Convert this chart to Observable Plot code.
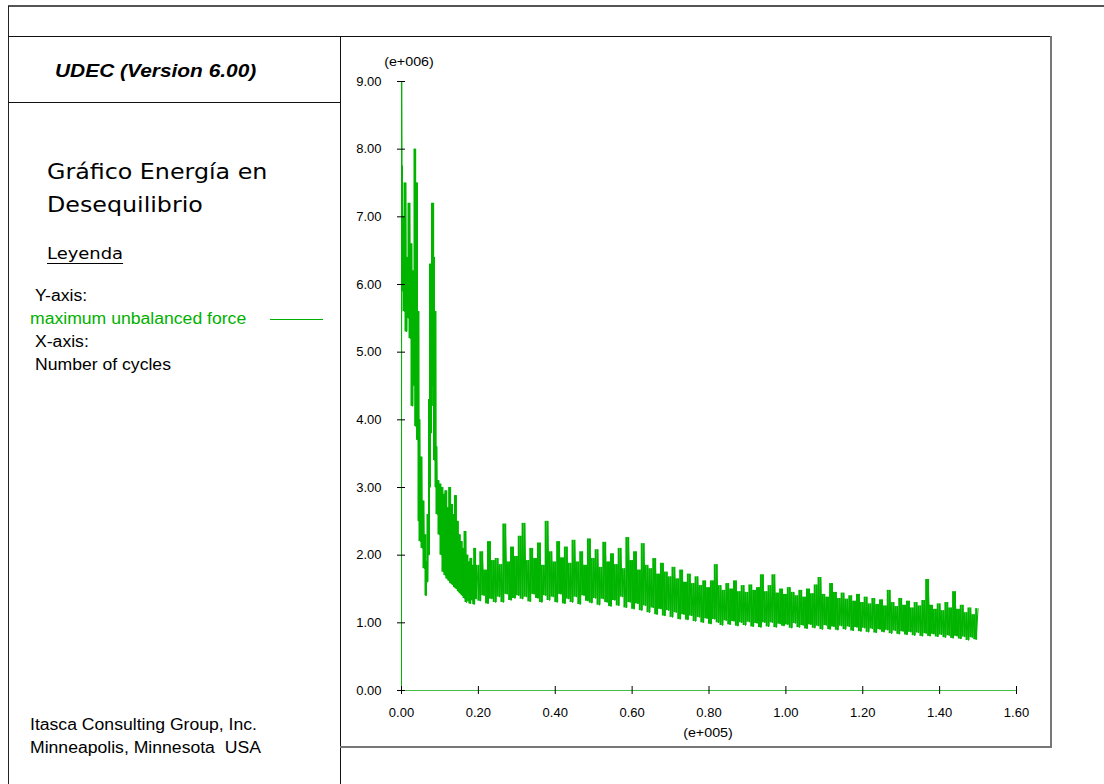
<!DOCTYPE html>
<html>
<head>
<meta charset="utf-8">
<script src="https://cdn.jsdelivr.net/npm/d3@7"></script>
<script src="https://cdn.jsdelivr.net/npm/@observablehq/plot@0.6"></script>
<style>
  html, body { margin: 0; padding: 0; background: #fff; }
  #page { position: relative; width: 1104px; height: 784px; background: #fff; overflow: hidden; }
  .ln { position: absolute; }
  .t { position: absolute; white-space: pre; line-height: 1; transform-origin: left top; }
  .arial { font-family: "Liberation Sans", Arial, sans-serif; }
  .verd { font-family: "DejaVu Sans", Verdana, sans-serif; }
  #chart { position: absolute; left: 340px; top: 36px; }
</style>
</head>
<body>
<div id="page">
  <!-- frame lines -->
  <div class="ln" style="left:8px;top:5px;width:1096px;height:2px;background:#555"></div>
  <div class="ln" style="left:8px;top:6px;width:1px;height:778px;background:#222"></div>
  <div class="ln" style="left:8px;top:36px;width:1043px;height:1px;background:#111"></div>
  <div class="ln" style="left:8px;top:102px;width:332px;height:1px;background:#111"></div>
  <div class="ln" style="left:340px;top:36px;width:1px;height:748px;background:#111"></div>
  <div class="ln" style="left:1050px;top:36px;width:2px;height:712px;background:#777"></div>
  <div class="ln" style="left:340px;top:746px;width:712px;height:2px;background:#777"></div>

  <!-- left panel texts -->
  <div class="t arial" style="left:55px;top:61px;font-size:19px;font-weight:bold;font-style:italic;transform:scaleX(1.1)">UDEC (Version 6.00)</div>
  <div class="t verd" style="left:47px;top:161.4px;font-size:22px;transform:scaleX(1.08)">Gráfico Energía en</div>
  <div class="t verd" style="left:47px;top:194.4px;font-size:22px;transform:scaleX(1.08)">Desequilibrio</div>
  <div class="t verd" style="left:47px;top:245.5px;font-size:16px;text-decoration:underline;text-underline-offset:4px;transform:scaleX(1.12)">Leyenda</div>
  <div class="t arial" style="left:35px;top:287.5px;font-size:16px;transform:scaleX(1.1)">Y-axis:</div>
  <div class="t arial" style="left:30px;top:310.5px;font-size:16px;color:#00b000;transform:scaleX(1.1)">maximum unbalanced force</div>
  <div class="ln" style="left:270px;top:319px;width:53px;height:1px;background:#00b000"></div>
  <div class="t arial" style="left:35px;top:333.5px;font-size:16px;transform:scaleX(1.1)">X-axis:</div>
  <div class="t arial" style="left:35px;top:356.5px;font-size:16px;transform:scaleX(1.1)">Number of cycles</div>
  <div class="t arial" style="left:30px;top:716.5px;font-size:16px;transform:scaleX(1.1)">Itasca Consulting Group, Inc.</div>
  <div class="t arial" style="left:30px;top:739.5px;font-size:16px;transform:scaleX(1.1)">Minneapolis, Minnesota  USA</div>

  <!-- exponent labels -->
  <div class="t arial" style="left:358.5px;top:54.5px;width:100px;text-align:center;font-size:13px;transform-origin:center top;transform:scaleX(1.1)">(e+006)</div>
  <div class="t arial" style="left:658px;top:726px;width:100px;text-align:center;font-size:13px;transform-origin:center top;transform:scaleX(1.1)">(e+005)</div>

  <div id="chart"></div>
</div>
<script>
// Number of cycles (e+005) and maximum unbalanced force (e+006)
const cyclesEarly = [0,0.0005,0.0013,0.0026,0.0052,0.0078,0.0104,0.0130,0.0156,0.0182,0.0208,0.0234,0.0260,0.0286,0.0312,0.0338,0.0356,0.0377,0.0403,0.0416,0.0442,0.0455,0.0468,0.0494,0.0520,0.0546,0.0572,0.0598,0.0624,0.0637,0.0650,0.0676,0.0702,0.0715,0.0728,0.0741,0.0754,0.0767,0.0780,0.0793,0.0824,0.0832,0.0845,0.0858,0.0884,0.0897,0.0910,0.0936,0.0962,0.0988,0.1014,
  0.1040,0.1065,0.1090,0.1115,0.1140,0.1165,0.1190,0.1215,0.1240,0.1265,0.1290,0.1315,0.1340,0.1365,0.1390,0.1415,0.1440,0.1465,0.1490,0.1515,0.1540,0.1565,0.1590,0.1615,0.1640,0.1665,0.1690,0.1715,0.1740,0.1765,0.1790,0.1815,0.1840,0.1865,0.1890,0.1915,0.1940];
const forceEarly = [0,9.0,7.75,5.9,7.0,5.6,7.5,5.3,6.4,5.5,7.2,5.2,6.6,4.2,6.2,4.5,8.0,3.9,7.5,3.7,5.6,2.5,4.0,2.2,3.45,2.1,2.8,1.8,2.3,1.4,1.9,1.6,2.6,2.0,4.3,3.0,6.3,3.8,6.0,4.5,7.2,4.2,6.4,3.4,5.6,3.0,3.6,2.6,3.1,2.3,3.05,
  2.0,3.0,1.75,2.9,1.7,2.95,1.65,2.7,1.62,3.0,1.58,2.75,1.56,2.6,1.52,2.88,1.5,2.5,1.46,2.3,1.43,2.2,1.4,2.1,1.36,2.35,1.3,2.0,1.32,1.9,1.28,1.95,1.33,1.85,1.27,2.1,1.35];

const cyclesMain = [
  .2,.205,.21,.215,.22,.225,.23,.235,.24,.245,
  .25,.255,.26,.265,.27,.275,.28,.285,.29,.295,
  .3,.305,.31,.315,.32,.325,.33,.335,.34,.345,
  .35,.355,.36,.365,.37,.375,.38,.385,.39,.395,
  .4,.405,.41,.415,.42,.425,.43,.435,.44,.445,
  .45,.455,.46,.465,.47,.475,.48,.485,.49,.495,
  .5,.505,.51,.515,.52,.525,.53,.535,.54,.545,
  .55,.555,.56,.565,.57,.575,.58,.585,.59,.595,
  .6,.605,.61,.615,.62,.625,.63,.635,.64,.645,
  .65,.655,.66,.665,.67,.675,.68,.685,.69,.695,
  .7,.705,.71,.715,.72,.725,.73,.735,.74,.745,
  .75,.755,.76,.765,.77,.775,.78,.785,.79,.795,
  .8,.805,.81,.815,.82,.825,.83,.835,.84,.845,
  .85,.855,.86,.865,.87,.875,.88,.885,.89,.895,
  .9,.905,.91,.915,.92,.925,.93,.935,.94,.945,
  .95,.955,.96,.965,.97,.975,.98,.985,.99,.995,
  1,1.005,1.01,1.015,1.02,1.025,1.03,1.035,1.04,1.045,
  1.05,1.055,1.06,1.065,1.07,1.075,1.08,1.085,1.09,1.095,
  1.1,1.105,1.11,1.115,1.12,1.125,1.13,1.135,1.14,1.145,
  1.15,1.155,1.16,1.165,1.17,1.175,1.18,1.185,1.19,1.195,
  1.2,1.205,1.21,1.215,1.22,1.225,1.23,1.235,1.24,1.245,
  1.25,1.255,1.26,1.265,1.27,1.275,1.28,1.285,1.29,1.295,
  1.3,1.305,1.31,1.315,1.32,1.325,1.33,1.335,1.34,1.345,
  1.35,1.355,1.36,1.365,1.37,1.375,1.38,1.385,1.39,1.395,
  1.4,1.405,1.41,1.415,1.42,1.425,1.43,1.435,1.44,1.445,
  1.45,1.455,1.46,1.465,1.47,1.475,1.48,1.485,1.49,1.495,
  1.5];
const forceMain = [
  1.85,1.32,2.05,1.40,1.78,1.28,2.20,1.35,1.92,1.30,
  1.95,1.38,1.86,1.30,2.46,1.42,1.90,1.33,2.12,1.36,
  1.98,1.40,2.28,1.35,2.47,1.38,1.92,1.31,2.10,1.42,
  1.95,1.36,2.18,1.30,1.85,1.40,2.50,1.33,2.05,1.38,
  1.90,1.30,2.20,1.42,1.96,1.28,2.12,1.35,1.88,1.30,
  2.22,1.38,1.90,1.27,2.05,1.40,1.85,1.32,2.24,1.29,
  1.95,1.36,2.08,1.26,1.82,1.35,2.19,1.30,1.90,1.24,
  2.02,1.33,1.86,1.25,2.10,1.38,1.80,1.22,2.26,1.30,
  1.92,1.20,2.05,1.28,1.78,1.18,2.17,1.25,1.85,1.15,
  1.80,1.22,1.95,1.12,1.72,1.20,1.88,1.10,1.75,1.18,
  1.68,1.08,1.82,1.15,1.65,1.05,1.78,1.12,1.60,1.04,
  1.72,1.10,1.58,1.02,1.68,1.08,1.55,1.00,1.62,1.06,
  1.52,0.98,1.62,1.05,1.86,1.00,1.55,0.96,1.48,1.03,
  1.58,0.97,1.50,1.02,1.62,0.95,1.46,1.00,1.55,0.96,
  1.45,1.01,1.56,0.94,1.48,0.99,1.52,0.93,1.71,1.00,
  1.46,0.94,1.55,1.00,1.71,0.93,1.44,0.98,1.50,0.95,
  1.42,0.97,1.52,0.92,1.45,0.99,1.40,0.93,1.48,0.96,
  1.38,0.91,1.50,0.97,1.43,0.92,1.56,0.95,1.67,0.90,
  1.42,0.96,1.38,0.90,1.58,0.94,1.45,0.89,1.36,0.95,
  1.44,0.90,1.35,0.94,1.40,0.88,1.32,0.93,1.42,0.87,
  1.30,0.92,1.38,0.86,1.28,0.91,1.36,0.85,1.27,0.90,
  1.34,0.86,1.25,0.89,1.48,0.84,1.30,0.88,1.24,0.83,
  1.36,0.87,1.26,0.82,1.32,0.86,1.22,0.81,1.30,0.85,
  1.25,0.80,1.33,0.84,1.64,0.80,1.26,0.83,1.20,0.79,
  1.28,0.82,1.18,0.78,1.30,0.81,1.22,0.77,1.46,0.80,
  1.20,0.76,1.26,0.79,1.15,0.74,1.22,0.78,1.12,0.75,
  1.21];

const xTicks = [0, 0.2, 0.4, 0.6, 0.8, 1.0, 1.2, 1.4, 1.6];
const yTicks = [0, 1, 2, 3, 4, 5, 6, 7, 8, 9];

const cycles = cyclesEarly.concat(cyclesMain);
const force = forceEarly.concat(forceMain);
const series = cycles.map((c, i) => ({cycles: c, force: force[i]}));
// vertical extent swept by each recorded step (how the dense trace fills a pixel column)
const sweeps = series.slice(2, -1).map((d, i) => {
  const next = series[i + 3];
  return {cycles: d.cycles, lo: Math.min(d.force, next.force), hi: Math.max(d.force, next.force)};
});

const lineGreen = "#00b400";
const axisGreen = "#45be45";

const chart = Plot.plot({
  width: 711,
  height: 711,
  marginLeft: 61,
  marginRight: 35,
  marginTop: 45,
  marginBottom: 57,
  x: {domain: [0, 1.6]},
  y: {domain: [0, 9]},
  style: {fontFamily: "'Liberation Sans', Arial, sans-serif", fontSize: "13px", color: "#000", background: "transparent", overflow: "visible"},
  marks: [
    Plot.ruleY([0], {stroke: axisGreen, strokeWidth: 1}),
    Plot.ruleX([0], {stroke: axisGreen, strokeWidth: 1}),
    Plot.ruleX(sweeps, {x: "cycles", y1: "lo", y2: "hi", stroke: lineGreen, strokeWidth: 2}),
    Plot.line(series, {x: "cycles", y: "force", stroke: lineGreen, strokeWidth: 1}),
    Plot.axisX(xTicks, {tickSize: 8, dy: -4, tickPadding: 13, tickFormat: d => d.toFixed(2), label: null, stroke: "#000"}),
    Plot.axisY(yTicks, {tickSize: 8, dx: 4, tickPadding: 16, tickFormat: d => d.toFixed(2), label: null, stroke: "#000"})
  ]
});
document.getElementById("chart").appendChild(chart);
</script>
</body>
</html>
